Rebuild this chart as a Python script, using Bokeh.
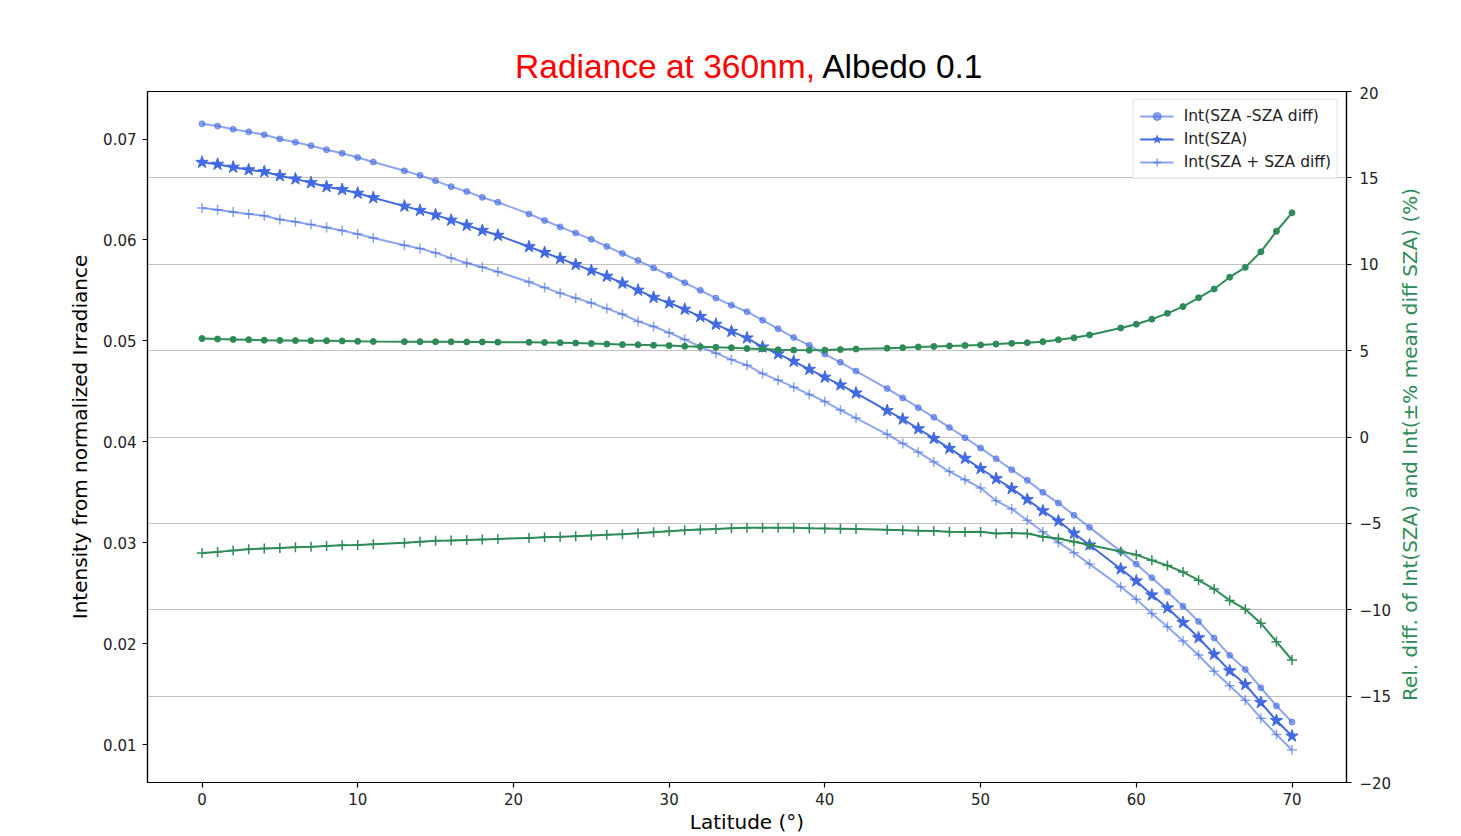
import math
from bokeh.plotting import figure
from bokeh.layouts import column, row
from bokeh.models import Range1d, LinearAxis, FixedTicker, Grid, Legend, LegendItem
from bokeh.core.properties import value
from bokeh.embed import file_html
from bokeh.resources import INLINE

# ---------------- data ----------------
lat = [0, 1, 2, 3, 4, 5, 6, 7, 8, 9, 10, 11,
       13, 14, 15, 16, 17, 18, 19,
       21, 22, 23, 24, 25, 26, 27, 28, 29, 30, 31, 32, 33, 34, 35, 36, 37, 38, 39, 40, 41, 42,
       44, 45, 46, 47, 48, 49, 50, 51, 52, 53, 54, 55, 56, 57,
       59, 60, 61, 62, 63, 64, 65, 66, 67, 68, 69, 70]

int_minus = [0.07151, 0.07129, 0.07097, 0.07071, 0.07042, 0.07001, 0.06968, 0.06933, 0.06894, 0.06859, 0.06817, 0.06772,
             0.06685, 0.06640, 0.06586, 0.06528, 0.06480, 0.06422, 0.06374,
             0.06258, 0.06193, 0.06129, 0.06068, 0.06007, 0.05936, 0.05866, 0.05796, 0.05723, 0.05650, 0.05576, 0.05501,
             0.05424, 0.05354, 0.05289, 0.05205, 0.05120, 0.05033, 0.04956, 0.04869, 0.04788, 0.04701,
             0.04527, 0.04435, 0.04338, 0.04242, 0.04142, 0.04041, 0.03938, 0.03832, 0.03724, 0.03618, 0.03499, 0.03393, 0.03273, 0.03152,
             0.02914, 0.02788, 0.02653, 0.02515, 0.02370, 0.02219, 0.02055, 0.01884, 0.01744, 0.01563, 0.01383, 0.01223]

int_sza = [0.06769, 0.06750, 0.06721, 0.06695, 0.06676, 0.06637, 0.06605, 0.06567, 0.06528, 0.06499, 0.06463, 0.06418,
           0.06335, 0.06293, 0.06248, 0.06196, 0.06145, 0.06094, 0.06046,
           0.05933, 0.05875, 0.05817, 0.05756, 0.05698, 0.05640, 0.05572, 0.05502, 0.05431, 0.05376, 0.05313, 0.05241,
           0.05164, 0.05094, 0.05029, 0.04939, 0.04872, 0.04797, 0.04717, 0.04640, 0.04563, 0.04483,
           0.04309, 0.04225, 0.04129, 0.04033, 0.03934, 0.03836, 0.03735, 0.03634, 0.03538, 0.03428, 0.03316, 0.03215, 0.03094, 0.02978,
           0.02740, 0.02621, 0.02482, 0.02354, 0.02209, 0.02058, 0.01894, 0.01730, 0.01595, 0.01416, 0.01238, 0.01084]

int_plus = [0.06316, 0.06299, 0.06277, 0.06258, 0.06239, 0.06203, 0.06181, 0.06152, 0.06123, 0.06094, 0.06058, 0.06020,
            0.05948, 0.05915, 0.05872, 0.05820, 0.05772, 0.05730, 0.05685,
            0.05583, 0.05528, 0.05473, 0.05424, 0.05376, 0.05320, 0.05264, 0.05193, 0.05142, 0.05081, 0.05014, 0.04942,
            0.04878, 0.04814, 0.04759, 0.04676, 0.04611, 0.04541, 0.04469, 0.04399, 0.04315, 0.04235,
            0.04074, 0.03984, 0.03897, 0.03801, 0.03705, 0.03624, 0.03543, 0.03415, 0.03335, 0.03222, 0.03109, 0.03003, 0.02901, 0.02788,
            0.02563, 0.02441, 0.02299, 0.02168, 0.02026, 0.01888, 0.01727, 0.01582, 0.01438, 0.01261, 0.01100, 0.00946]

rel_minus = [5.70, 5.67, 5.65, 5.63, 5.60, 5.59, 5.58, 5.57, 5.57, 5.56, 5.54, 5.53,
             5.52, 5.52, 5.51, 5.51, 5.50, 5.50, 5.49,
             5.48, 5.47, 5.46, 5.44, 5.41, 5.38, 5.35, 5.34, 5.31, 5.29, 5.25, 5.23,
             5.19, 5.17, 5.12, 5.10, 5.05, 5.03, 5.02, 5.03, 5.06, 5.09,
             5.14, 5.17, 5.21, 5.24, 5.27, 5.30, 5.33, 5.38, 5.42, 5.46, 5.52, 5.63, 5.74, 5.91,
             6.31, 6.53, 6.82, 7.16, 7.55, 8.06, 8.57, 9.25, 9.82, 10.72, 11.91, 12.98]

rel_plus = [-6.72, -6.65, -6.57, -6.50, -6.46, -6.42, -6.38, -6.35, -6.31, -6.27, -6.25, -6.21,
            -6.12, -6.06, -6.01, -5.99, -5.96, -5.93, -5.90,
            -5.84, -5.81, -5.78, -5.74, -5.70, -5.66, -5.63, -5.57, -5.52, -5.46, -5.40, -5.36,
            -5.32, -5.28, -5.25, -5.25, -5.25, -5.26, -5.28, -5.29, -5.31, -5.33,
            -5.37, -5.40, -5.42, -5.44, -5.48, -5.50, -5.48, -5.59, -5.56, -5.59, -5.78, -5.87, -6.06, -6.25,
            -6.63, -6.82, -7.14, -7.44, -7.82, -8.29, -8.80, -9.46, -9.97, -10.78, -11.85, -12.91]

x_ticks = [0, 10, 20, 30, 40, 50, 60, 70]
left_ticks = [0.01, 0.02, 0.03, 0.04, 0.05, 0.06, 0.07]
right_ticks = [-20, -15, -10, -5, 0, 5, 10, 15, 20]
legend_labels = ["Int(SZA -SZA diff)", "Int(SZA)", "Int(SZA + SZA diff)"]
title_red = "Radiance at 360nm,"
title_black = "Albedo 0.1"
right_label = "Rel. diff. of Int(SZA) and Int(±% mean diff SZA) (%)"

# ---------------- styling ----------------
BLUE = "#4169e1"
GREEN = "#2e8b57"
FONT = "DejaVu Sans"
W = 1394          # main column width
RW = 28           # strip holding the right axis title
H = 836
TITLE_H = 86

def bare(width, height):
    f = figure(width=width, height=height, x_range=Range1d(0, width), y_range=Range1d(0, height),
               output_backend="svg", toolbar_location=None,
               x_axis_location=None, y_axis_location=None,
               min_border=0, min_border_left=0, min_border_right=0, min_border_top=0, min_border_bottom=0,
               background_fill_color="white", border_fill_color="white")
    f.grid.visible = False
    f.outline_line_color = None
    return f

# ---- title strip (two-coloured title) ----
tf = bare(W, TITLE_H)
tf.text(x=[776], y=[20.5], text=[title_red], text_color="red", text_align="right",
        text_baseline="alphabetic", text_font=value("Liberation Sans"), text_font_size=value("33.5px"))
tf.text(x=[784.5], y=[20.5], text=[title_black], text_color="black", text_align="left",
        text_baseline="alphabetic", text_font=value("Liberation Sans"), text_font_size=value("33.5px"))

# ---- strip with the right-hand axis title (reads bottom to top) ----
rf = bare(RW, H)
rf.text(x=[15], y=[H - 444], text=[right_label], angle=math.pi / 2, text_color=GREEN,
        text_align="center", text_baseline="middle",
        text_font=value(FONT), text_font_size=value("20px"))

# ---- main plot ----
p = figure(width=W, height=H - TITLE_H,
           x_range=Range1d(-3.5, 73.5), y_range=Range1d(0.00624, 0.07471),
           output_backend="svg", toolbar_location=None,
           min_border_left=147, min_border_right=47, min_border_top=5, min_border_bottom=30,
           background_fill_color="white", border_fill_color="white")
p.extra_y_ranges = {"right": Range1d(-20, 20)}
p.grid.visible = False
p.outline_line_color = "black"
p.outline_line_width = 1.2

def style_axis(ax, label_color="black"):
    ax.axis_line_color = "black"
    ax.axis_line_width = 1.2
    ax.major_tick_line_color = "black"
    ax.major_tick_line_width = 1.2
    ax.major_tick_out = 5
    ax.major_tick_in = 0
    ax.minor_tick_line_color = None
    ax.major_label_text_font = FONT
    ax.major_label_text_font_size = "15px"
    ax.major_label_text_color = "#222222"
    ax.axis_label_text_font = FONT
    ax.axis_label_text_font_size = "20px"
    ax.axis_label_text_font_style = "normal"
    ax.axis_label_text_color = label_color

xax = p.xaxis[0]
xax.ticker = FixedTicker(ticks=x_ticks)
xax.axis_label = "Latitude (°)"
style_axis(xax)
xax.major_label_standoff = 5
xax.axis_label_standoff = 2

yax = p.yaxis[0]
yax.ticker = FixedTicker(ticks=left_ticks)
yax.axis_label = "Intensity from normalized Irradiance"
style_axis(yax)
yax.major_label_standoff = 6
yax.axis_label_standoff = 8

rax = LinearAxis(y_range_name="right", ticker=FixedTicker(ticks=right_ticks))
style_axis(rax, GREEN)
rax.major_label_overrides = {t: ("\u2212" + str(abs(t)) if t < 0 else str(t)) for t in right_ticks}
rax.major_label_standoff = 8
p.add_layout(rax, "right")

grid = Grid(dimension=1, ticker=rax.ticker, y_range_name="right",
            grid_line_color="#c2c2c2", grid_line_width=1.2)
p.add_layout(grid)

# blue series (left axis)
l1 = p.line(lat, int_minus, line_color=BLUE, line_alpha=0.6, line_width=2)
s1 = p.scatter(lat, int_minus, marker="circle", size=6, fill_color=BLUE, line_color=BLUE,
               fill_alpha=0.6, line_alpha=0.6)
l2 = p.line(lat, int_sza, line_color=BLUE, line_width=2)
s2 = p.scatter(lat, int_sza, marker="star", size=13, fill_color=BLUE, line_color=BLUE)
l3 = p.line(lat, int_plus, line_color=BLUE, line_alpha=0.6, line_width=2)
s3 = p.scatter(lat, int_plus, marker="cross", size=10, line_color=BLUE, line_alpha=0.6, line_width=1.5)

# green series (right axis)
p.line(lat, rel_minus, line_color=GREEN, line_width=2, y_range_name="right")
p.scatter(lat, rel_minus, marker="circle", size=6, fill_color=GREEN, line_color=GREEN, y_range_name="right")
p.line(lat, rel_plus, line_color=GREEN, line_width=2, y_range_name="right")
p.scatter(lat, rel_plus, marker="cross", size=10, line_color=GREEN, line_width=1.5, y_range_name="right")

legend = Legend(items=[LegendItem(label=legend_labels[0], renderers=[l1, s1]),
                       LegendItem(label=legend_labels[1], renderers=[l2, s2]),
                       LegendItem(label=legend_labels[2], renderers=[l3, s3])],
                location="top_right")
legend.margin = 8
legend.padding = 6
legend.spacing = 3
legend.glyph_width = 34
legend.glyph_height = 20
legend.label_height = 20
legend.label_standoff = 10
legend.label_text_font = FONT
legend.label_text_font_size = "15.5px"
legend.label_text_color = "#222222"
legend.border_line_color = "#cccccc"
legend.border_line_width = 1
legend.background_fill_alpha = 0.8
p.add_layout(legend)

layout = row(column(tf, p, spacing=0), rf, spacing=0)
open("out.html", "w").write(file_html(layout, INLINE))
